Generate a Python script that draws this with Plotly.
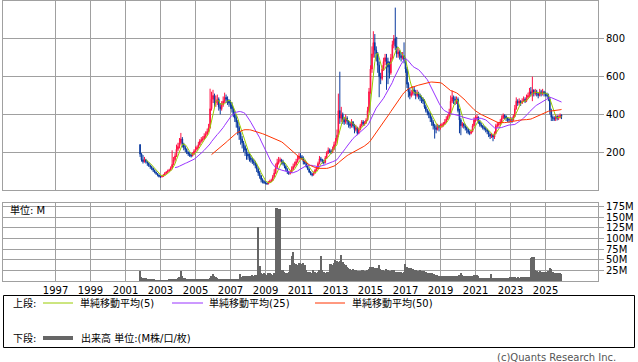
import pandas as pd
import plotly.graph_objects as go

# ---------------- data (monthly, Nov 2001 - Dec 2025) ----------------
months = pd.date_range("2001-11-01", "2025-12-01", freq="MS")

open_ = [
    240, 190,
    160, 150, 160, 150, 142, 130, 123, 115, 105, 95, 88, 79,
    72, 70, 72, 80, 88, 95, 100, 105, 115, 135, 160, 180,
    215, 230, 250, 270, 240, 225, 215, 200, 190, 185, 180, 190,
    205, 215, 225, 240, 260, 265, 270, 285, 295, 310, 330, 430,
    480, 500, 460, 470, 480, 440, 430, 450, 470, 490, 480, 470,
    460, 450, 430, 400, 380, 360, 330, 300, 270, 250, 230, 210,
    190, 180, 170, 160, 150, 145, 130, 110, 90, 75, 55, 45,
    40, 35, 32, 40, 45, 50, 70, 90, 120, 145, 155, 160,
    150, 140, 125, 110, 95, 88, 95, 110, 125, 135, 150, 165,
    180, 175, 170, 150, 140, 125, 110, 95, 85, 80, 90, 105,
    115, 140, 165, 160, 150, 145, 170, 195, 210, 205, 200, 215,
    240, 260, 290, 420, 380, 400, 370, 360, 380, 365, 350, 340,
    360, 340, 320, 330, 300, 320, 340, 360, 350, 355, 370, 420,
    520, 640, 720, 780, 740, 720, 660, 600, 590, 640, 680, 700,
    680, 650, 620, 700, 770, 800, 760, 720, 730, 710, 700, 710,
    690, 640, 560, 520, 500, 510, 530, 520, 500, 510, 500, 490,
    480, 470, 440, 420, 410, 400, 380, 360, 340, 330, 320, 340,
    330, 340, 345, 350, 360, 375, 390, 410, 470, 490, 480, 475,
    480, 420, 370, 340, 350, 340, 330, 320, 305, 300, 310, 340,
    370, 380, 385, 360, 345, 340, 330, 325, 320, 310, 295, 285,
    290, 280, 300, 340, 345, 350, 360, 380, 395, 390, 380, 375,
    370, 375, 370, 390, 430, 470, 460, 470, 460, 470, 480, 470,
    490, 500, 520, 510, 530, 510, 520, 510, 500, 520, 510, 520,
    510, 505, 500, 480, 420, 385, 380, 375, 390, 380, 385, 395,
]

high = [
    242, 195,
    185, 175, 165, 155, 145, 135, 128, 118, 108, 98, 90, 82,
    76, 78, 85, 95, 100, 108, 112, 125, 210, 175, 195, 240,
    250, 275, 302, 280, 250, 235, 220, 205, 200, 195, 200, 215,
    230, 235, 255, 270, 280, 285, 300, 310, 325, 350, 536, 520,
    530, 510, 500, 505, 490, 460, 470, 495, 515, 505, 495, 480,
    475, 465, 440, 420, 395, 370, 340, 310, 285, 260, 240, 220,
    200, 195, 185, 170, 165, 155, 140, 120, 100, 80, 62, 52,
    45, 40, 48, 55, 60, 80, 110, 140, 165, 175, 172, 165,
    160, 145, 130, 115, 100, 105, 125, 140, 150, 165, 180, 195,
    195, 185, 178, 158, 145, 130, 115, 100, 92, 98, 112, 125,
    150, 180, 175, 165, 160, 180, 205, 225, 220, 215, 230, 255,
    275, 320, 510, 626, 440, 410, 385, 400, 390, 370, 360, 375,
    365, 350, 345, 335, 330, 350, 370, 370, 365, 380, 440, 540,
    660, 760, 840, 825, 760, 730, 680, 620, 660, 700, 720, 720,
    700, 680, 720, 790, 820, 965, 810, 750, 740, 730, 730, 781,
    700, 650, 570, 540, 530, 550, 545, 530, 530, 520, 510, 500,
    490, 480, 450, 430, 420, 410, 390, 370, 350, 345, 350, 345,
    350, 355, 360, 375, 390, 400, 430, 500, 526, 500, 495, 495,
    490, 430, 380, 360, 355, 350, 335, 325, 315, 320, 350, 385,
    395, 400, 390, 370, 355, 345, 340, 335, 325, 315, 300, 300,
    295, 310, 350, 360, 360, 375, 395, 405, 400, 395, 385, 380,
    385, 385, 400, 450, 490, 480, 485, 475, 485, 495, 490, 505,
    515, 540, 545, 600, 530, 535, 530, 515, 535, 530, 535, 525,
    520, 515, 510, 490, 430, 395, 390, 400, 395, 395, 405, 400,
]

low = [
    175, 150,
    140, 145, 140, 128, 122, 112, 105, 95, 88, 80, 72, 66,
    64, 66, 70, 78, 85, 90, 96, 102, 110, 130, 150, 175,
    205, 220, 240, 225, 210, 200, 190, 180, 175, 172, 178, 185,
    200, 210, 220, 235, 250, 255, 265, 275, 290, 305, 325, 420,
    460, 440, 440, 450, 420, 400, 420, 440, 460, 460, 450, 440,
    430, 410, 385, 360, 330, 290, 265, 240, 220, 200, 180, 160,
    160, 150, 145, 138, 130, 115, 95, 75, 60, 40, 35, 32,
    30, 28, 30, 38, 42, 48, 65, 85, 110, 135, 145, 135,
    130, 115, 100, 85, 80, 82, 90, 105, 118, 128, 145, 160,
    168, 160, 135, 135, 118, 105, 90, 78, 72, 76, 86, 100,
    110, 135, 150, 140, 135, 140, 165, 190, 195, 190, 195, 210,
    235, 250, 280, 350, 360, 350, 345, 350, 345, 330, 325, 330,
    330, 300, 310, 290, 295, 315, 335, 340, 340, 350, 365, 410,
    510, 620, 700, 700, 680, 620, 491, 560, 580, 630, 660, 530,
    560, 590, 610, 690, 750, 740, 700, 700, 690, 680, 690, 670,
    620, 540, 490, 480, 490, 500, 500, 480, 490, 480, 470, 460,
    455, 430, 410, 395, 380, 360, 340, 320, 272, 300, 315, 310,
    320, 330, 335, 345, 355, 370, 385, 400, 460, 455, 450, 455,
    410, 300, 290, 330, 325, 315, 300, 295, 290, 295, 305, 335,
    360, 365, 350, 335, 330, 320, 315, 305, 295, 280, 270, 275,
    258, 270, 295, 330, 335, 340, 355, 375, 375, 365, 360, 355,
    360, 355, 365, 385, 425, 445, 450, 445, 455, 465, 460, 465,
    480, 490, 495, 470, 495, 500, 495, 485, 495, 495, 500, 495,
    495, 490, 470, 400, 365, 365, 365, 365, 368, 370, 378, 375,
]

close = [
    190, 160,
    150, 160, 150, 142, 130, 123, 115, 105, 95, 88, 79, 72,
    70, 72, 80, 88, 95, 100, 105, 115, 135, 160, 180, 215,
    230, 250, 270, 240, 225, 215, 200, 190, 185, 180, 190, 205,
    215, 225, 240, 260, 265, 270, 285, 295, 310, 330, 430, 480,
    500, 460, 470, 480, 440, 430, 450, 470, 490, 480, 470, 460,
    450, 430, 400, 380, 360, 330, 300, 270, 250, 230, 210, 190,
    180, 170, 160, 150, 145, 130, 110, 90, 75, 55, 45, 40,
    35, 32, 40, 45, 50, 70, 90, 120, 145, 155, 160, 150,
    140, 125, 110, 95, 88, 95, 110, 125, 135, 150, 165, 180,
    175, 170, 150, 140, 125, 110, 95, 85, 80, 90, 105, 115,
    140, 165, 160, 150, 145, 170, 195, 210, 205, 200, 215, 240,
    260, 290, 420, 380, 400, 370, 360, 380, 365, 350, 340, 360,
    340, 320, 330, 300, 320, 340, 360, 350, 355, 370, 420, 520,
    640, 720, 780, 740, 720, 660, 600, 590, 640, 680, 700, 680,
    650, 620, 700, 770, 800, 760, 720, 730, 710, 700, 710, 690,
    640, 560, 520, 500, 510, 530, 520, 500, 510, 500, 490, 480,
    470, 440, 420, 410, 400, 380, 360, 340, 330, 320, 340, 330,
    340, 345, 350, 360, 375, 390, 410, 470, 490, 480, 475, 480,
    420, 370, 340, 350, 340, 330, 320, 305, 300, 310, 340, 370,
    380, 385, 360, 345, 340, 330, 325, 320, 310, 295, 285, 290,
    280, 300, 340, 345, 350, 360, 380, 395, 390, 380, 375, 370,
    375, 370, 390, 430, 470, 460, 470, 460, 470, 480, 470, 490,
    500, 520, 510, 530, 510, 520, 510, 500, 520, 510, 520, 510,
    505, 500, 480, 420, 385, 380, 375, 390, 380, 385, 395, 390,
]

volume_m = [
    23, 10,
    8, 7, 6, 5, 4, 4, 3, 3, 3, 2, 2, 2,
    2, 2, 2, 2, 2, 2, 3, 3, 3, 3, 4, 5,
    6, 10, 23, 12, 8, 6, 5, 4, 3, 3, 3, 3,
    3, 3, 3, 3, 3, 3, 3, 3, 4, 5, 8, 12,
    16, 12, 9, 6, 4, 3, 3, 3, 3, 3, 3, 3,
    3, 3, 3, 3, 3, 4, 5, 16, 10, 12, 11, 12,
    12, 11, 12, 13, 12, 14, 15, 127, 35, 20, 16, 18,
    16, 14, 18, 20, 16, 14, 20, 173, 173, 170, 170, 25,
    25, 22, 20, 19, 22, 37, 58, 68, 42, 40, 37, 42,
    42, 40, 42, 38, 25, 22, 20, 22, 20, 25, 22, 20,
    22, 25, 58, 25, 22, 20, 22, 22, 40, 40, 38, 42,
    50, 48, 45, 48, 61, 44, 40, 37, 33, 30, 28, 25,
    28, 25, 26, 24, 23, 24, 25, 26, 24, 23, 25, 28,
    33, 32, 33, 30, 30, 31, 37, 28, 26, 25, 24, 28,
    26, 24, 23, 25, 27, 22, 21, 21, 22, 21, 20, 22,
    40, 32, 31, 30, 30, 28, 26, 25, 24, 23, 25, 24,
    24, 23, 22, 20, 19, 18, 18, 17, 17, 15, 13, 12,
    12, 12, 11, 11, 12, 11, 12, 12, 11, 12, 12, 11,
    12, 13, 20, 13, 12, 12, 11, 12, 11, 12, 12, 13,
    14, 13, 12, 8, 7, 7, 7, 6, 7, 7, 7, 16,
    7, 8, 7, 6, 7, 6, 7, 8, 6, 7, 6, 7,
    9, 9, 10, 9, 8, 9, 8, 9, 10, 9, 10, 9,
    9, 10, 55, 56, 57, 25, 23, 22, 24, 21, 22, 21,
    22, 21, 24, 31, 28, 22, 20, 19, 18, 18, 18, 17,
]

year_ticks = [1997, 1999, 2001, 2003, 2005, 2007, 2009, 2011,
              2013, 2015, 2017, 2019, 2021, 2023, 2025]
price_ticks = [200, 400, 600, 800]
volume_ticks = [25, 50, 75, 100, 125, 150, 175]
ma_periods = [5, 25, 50]
ma_names = ["単純移動平均(5)", "単純移動平均(25)", "単純移動平均(50)"]

# ---------------- figure ----------------
W, H = 638, 362
ML, MR, MT, MB = 3, 40, 1, 81
PW, PH = W - ML - MR, H - MT - MB


def px_x(p):
    return (p - ML) / PW


def px_y(p):
    return (H - MB - p) / PH


FONT = "DejaVu Sans, Noto Sans CJK JP, sans-serif"
GRID = "#a0a0a0"
ma_colors = ["#99cc00", "#9933ff", "#ff3300"]

close_s = pd.Series(close, index=months)

fig = go.Figure()
fig.add_trace(go.Candlestick(
    x=months, open=open_, high=high, low=low, close=close,
    increasing=dict(line=dict(color="#ff1144", width=1), fillcolor="#ff1144"),
    decreasing=dict(line=dict(color="#0a3a9e", width=1), fillcolor="#0a3a9e"),
    whiskerwidth=0, xaxis="x", yaxis="y", showlegend=False, hoverinfo="skip",
))
for per, col, name in zip(ma_periods, ma_colors, ma_names):
    ma = close_s.rolling(per).mean()
    fig.add_trace(go.Scatter(
        x=months, y=ma.values, mode="lines", name=name,
        line=dict(color=col, width=1), xaxis="x", yaxis="y",
        showlegend=False, hoverinfo="skip",
    ))
fig.add_trace(go.Bar(
    x=months, y=volume_m, marker=dict(color="#666666", line=dict(width=0)),
    xaxis="x2", yaxis="y2", showlegend=False, hoverinfo="skip",
))

year_vals = [f"{y}-01-01" for y in year_ticks]
xr = ["1994-01-01", "2028-01-01"]
common_x = dict(range=xr, type="date", tickmode="array", tickvals=year_vals,
                showgrid=True, gridcolor=GRID, gridwidth=1,
                showline=True, linecolor=GRID, mirror=True, zeroline=False,
                rangeslider=dict(visible=False))

fig.update_layout(
    width=W, height=H, margin=dict(l=ML, r=MR, t=MT, b=MB, autoexpand=False),
    paper_bgcolor="white", plot_bgcolor="white",
    font=dict(family=FONT, size=10, color="#000000"),
    bargap=0,
    xaxis=dict(**common_x, anchor="y", showticklabels=False, matches="x2"),
    xaxis2=dict(**common_x, anchor="y2", showticklabels=True,
                ticktext=[str(y) for y in year_ticks], ticks=""),
    yaxis=dict(domain=[px_y(190), 1], range=[0, 1000], side="right",
               tickmode="array", tickvals=price_ticks,
               ticktext=[str(v) for v in price_ticks],
               showgrid=True, gridcolor=GRID, showline=True, linecolor=GRID,
               mirror=True, zeroline=False, ticks="outside", ticklen=5,
               tickcolor=GRID, anchor="x"),
    yaxis2=dict(domain=[0, px_y(203)], range=[0, 183.7], side="right",
                tickmode="array", tickvals=volume_ticks,
                ticktext=[f"{v}M" for v in volume_ticks],
                showgrid=True, gridcolor=GRID, showline=True, linecolor=GRID,
                mirror=True, zeroline=False, ticks="outside", ticklen=5,
                tickcolor=GRID, anchor="x2"),
)

# ---------------- annotations / legend ----------------
ann = []
shapes = []
ann.append(dict(text="単位: M", x=px_x(8), y=px_y(210), xref="paper", yref="paper",
                xanchor="left", yanchor="middle", showarrow=False,
                font=dict(size=10, family=FONT)))

# legend box
shapes.append(dict(type="rect", xref="paper", yref="paper",
                   x0=px_x(3.5), x1=px_x(634.5), y0=px_y(295.5), y1=px_y(347.5),
                   line=dict(color="#000000", width=1), fillcolor="rgba(0,0,0,0)"))
row1, row2 = 303, 338
ann.append(dict(text="上段:", x=px_x(11), y=px_y(row1), xref="paper", yref="paper",
                xanchor="left", yanchor="middle", showarrow=False))
ann.append(dict(text="下段:", x=px_x(11), y=px_y(row2), xref="paper", yref="paper",
                xanchor="left", yanchor="middle", showarrow=False))
seg_x = [(43, 73, 78), (172, 203, 207), (315, 345, 350)]
for (a, b, t), col, name in zip(seg_x, ma_colors, ma_names):
    shapes.append(dict(type="line", xref="paper", yref="paper",
                       x0=px_x(a), x1=px_x(b), y0=px_y(row1), y1=px_y(row1),
                       line=dict(color=col, width=1)))
    ann.append(dict(text=name, x=px_x(t), y=px_y(row1), xref="paper", yref="paper",
                    xanchor="left", yanchor="middle", showarrow=False))
shapes.append(dict(type="line", xref="paper", yref="paper",
                   x0=px_x(43), x1=px_x(73), y0=px_y(row2), y1=px_y(row2),
                   line=dict(color="#666666", width=4)))
ann.append(dict(text="出来高 単位:(M株/口/枚)", x=px_x(79), y=px_y(row2),
                xref="paper", yref="paper", xanchor="left", yanchor="middle",
                showarrow=False))
ann.append(dict(text="(c)Quants Research Inc.", x=px_x(618), y=px_y(357),
                xref="paper", yref="paper", xanchor="right", yanchor="middle",
                showarrow=False, font=dict(size=10, color="#555555", family=FONT)))

fig.update_layout(annotations=ann, shapes=shapes)
fig.write_html("out.html", config={"displayModeBar": False},
               post_script="document.body.style.margin='0';document.body.style.overflow='hidden';")
